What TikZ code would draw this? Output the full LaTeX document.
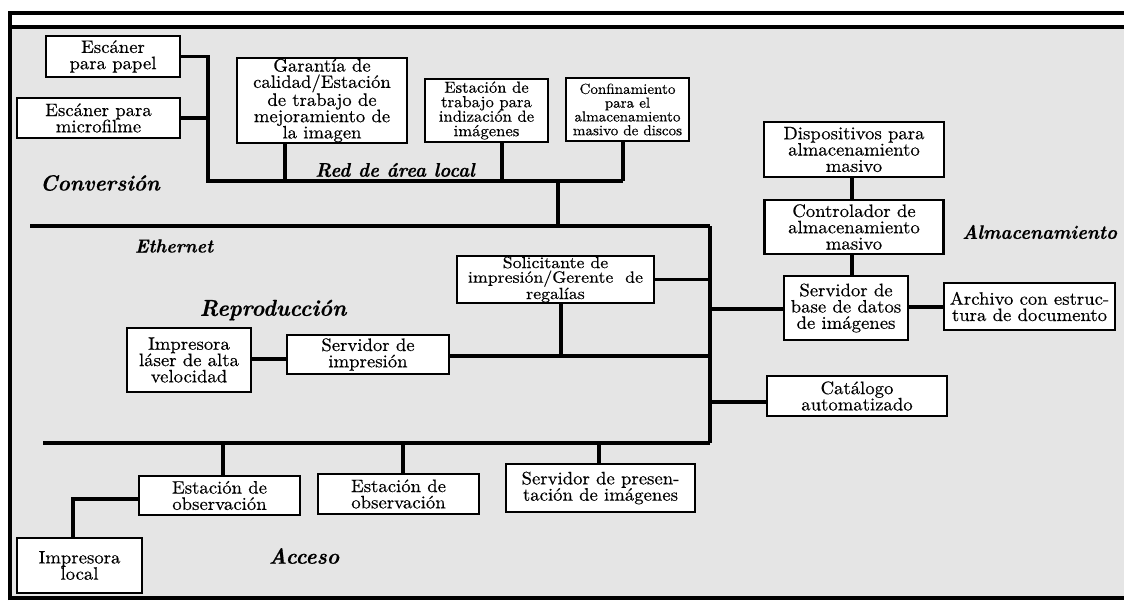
\documentclass[tikz,border=0pt]{standalone}
\usepackage{fontspec}
\setmainfont{lmroman10}[Extension=.otf,UprightFont=*-regular,BoldFont=*-bold,ItalicFont=*-italic,BoldItalicFont=*-bolditalic,FakeStretch=1.04,FakeBold=0.4]
\newfontfamily\labfont{lmroman10}[Extension=.otf,UprightFont=*-regular,BoldFont=*-bold,ItalicFont=*-italic,BoldItalicFont=*-bolditalic,FakeStretch=0.95,FakeBold=0.5]
\newfontfamily\widefont{lmroman10}[Extension=.otf,UprightFont=*-regular,FakeStretch=1.1,FakeBold=0.4]
\definecolor{bggray}{RGB}{229,229,229}
\begin{document}
\begin{tikzpicture}[x=1pt,y=-1pt,
  box/.style={draw, line width=2.8pt, fill=white, align=center, inner sep=0pt,
    font=\fontsize{18}{16.3}\selectfont},
  small/.style={font=\fontsize{16}{14.5}\selectfont},
  smaller/.style={font=\fontsize{14.5}{13.8}\selectfont},
  wire/.style={line width=3.2pt},
  bus/.style={line width=4pt},
  lab/.style={inner sep=0pt}]
\useasboundingbox (0,0) rectangle (1124,602);
\fill[white] (0,0) rectangle (1124,602);
\fill[bggray] (10,27) rectangle (1124,598);
% frame
\draw[line width=4.5pt] (10,600) -- (10,13) -- (1130,13);
\draw[line width=4pt] (10,27) -- (1130,27);
\draw[line width=4pt] (8,598) -- (1130,598);
% nodes
\node[box, minimum width=134pt, minimum height=41pt] (papel) at (113,56.5) {Escáner\\para papel};
\node[box, minimum width=163pt, minimum height=40pt] (micro) at (98.5,118) {Escáner para\\microfilme};
\node[box, minimum width=170pt, minimum height=85pt] (garantia) at (322,100.5) {Garantía de\\calidad/Estación\\de trabajo de\\mejoramiento de\\la imagen};
\node[box, small, minimum width=123pt, minimum height=63pt] (indiz) at (486.5,110.5) {Estación de\\trabajo para\\indización de\\imágenes};
\node[box, smaller, minimum width=123pt, minimum height=63pt] (confin) at (627.5,109.5) {Confinamiento\\para el\\almacenamiento\\masivo de discos};
\node[box, minimum width=180pt, minimum height=55pt] (dispos) at (854,149.5) {Dispositivos para\\almacenamiento\\masivo};
\node[box, minimum width=179pt, minimum height=54pt] (control) at (854,227) {Controlador de\\almacenamiento\\masivo};
\node[box, minimum width=124pt, minimum height=64pt] (servbd) at (846,308) {Servidor de\\base de datos\\de imágenes};
\node[box, minimum width=171pt, minimum height=47pt] (archivo) at (1029.5,306.5) {Archivo con estruc-\\tura de documento};
\node[box, minimum width=180pt, minimum height=40pt] (catalogo) at (857,396) {Catálogo\\automatizado};
\node[box, font=\widefont\fontsize{16.2}{14.6}\selectfont, minimum width=197pt, minimum height=47pt] (solic) at (555.5,279.5) {Solicitante de\\impresión/Gerente\ \ de\\regalías};
\node[box, minimum width=162pt, minimum height=39pt] (servimp) at (368,354.5) {Servidor de\\impresión};
\node[box, minimum width=124pt, minimum height=64pt] (laser) at (189,360) {Impresora\\láser de alta\\velocidad};
\node[box, minimum width=161pt, minimum height=39pt] (obs1) at (219.5,495.5) {Estación de\\observación};
\node[box, minimum width=161pt, minimum height=40pt] (obs2) at (398.5,494) {Estación de\\observación};
\node[box, minimum width=189pt, minimum height=48pt] (present) at (600.5,488) {Servidor de presen-\\tación de imágenes};
\node[box, minimum width=125pt, minimum height=55pt] (local) at (79.5,565.5) {Impresora\\local};
% junction coordinates
\coordinate (lanL) at (208,181);
\coordinate (lanR) at (623,181);
\coordinate (lanC) at (558,181);
\coordinate (ethL) at (30,226);
\coordinate (ethR) at (710,226);
\coordinate (busR) at (710,443);
\coordinate (busL) at (43,443);
\coordinate (lc) at (73,499);
% connectors
\draw[wire] (papel.east) -| (lanL) -- (lanR);
\draw[wire] (micro.east) -- (micro.east -| lanL);
\draw[wire] (garantia.south -| 285,0) -- (285,181);
\draw[wire] (indiz.south -| 502,0) -- (502,181);
\draw[wire] (confin.south -| lanR) -- (lanR);
\draw[wire] (lanC) -- (lanC |- ethL);
\draw[bus] (ethL) -- (ethR);
\draw[wire] (ethR) -- (busR);
\draw[bus] (busR) -- (busL);
\draw[wire] (solic.east) -- (solic.east -| ethR);
\draw[wire] (solic.south -| 561,0) -- (561,356);
\draw[wire] (servimp.east |- 0,356) -- (710,356);
\draw[wire] (laser.east |- 0,359) -- (servimp.west |- 0,359);
\draw[wire] (servbd.west |- 0,309) -- (710,309);
\draw[wire] (servbd.east |- 0,307) -- (archivo.west |- 0,307);
\draw[wire] (catalogo.west |- 0,402) -- (710,402);
\draw[wire] (dispos.south -| 852,0) -- (control.north -| 852,0);
\draw[wire] (control.south -| 852,0) -- (servbd.north -| 852,0);
\draw[wire] (obs1.north -| 223,0) -- (223,443);
\draw[wire] (obs2.north -| 403,0) -- (403,443);
\draw[wire] (present.north -| 599,0) -- (599,443);
\draw[wire] (obs1.west |- lc) -- (lc) -- (lc |- local.north);
% labels
\node[lab, font=\labfont\bfseries\itshape\fontsize{22}{22}\selectfont] (conv) at (100,183) {Conversión};
\node[lab, font=\labfont\bfseries\itshape\fontsize{19.7}{19.7}\selectfont] (red) at (395,170) {Red de área local};
\node[lab, font=\labfont\bfseries\itshape\fontsize{19}{19}\selectfont] (eth) at (174,246) {Ethernet};
\node[lab, font=\labfont\bfseries\itshape\fontsize{23}{23}\selectfont] (repro) at (273,310) {Reproducción};
\node[lab, font=\labfont\bfseries\itshape\fontsize{19.5}{19.5}\selectfont, anchor=west] (alma) at (962,232) {Almacenamiento};
\node[lab, font=\labfont\bfseries\itshape\fontsize{22}{22}\selectfont] (acc) at (304,556) {Acceso};
\end{tikzpicture}
\end{document}
